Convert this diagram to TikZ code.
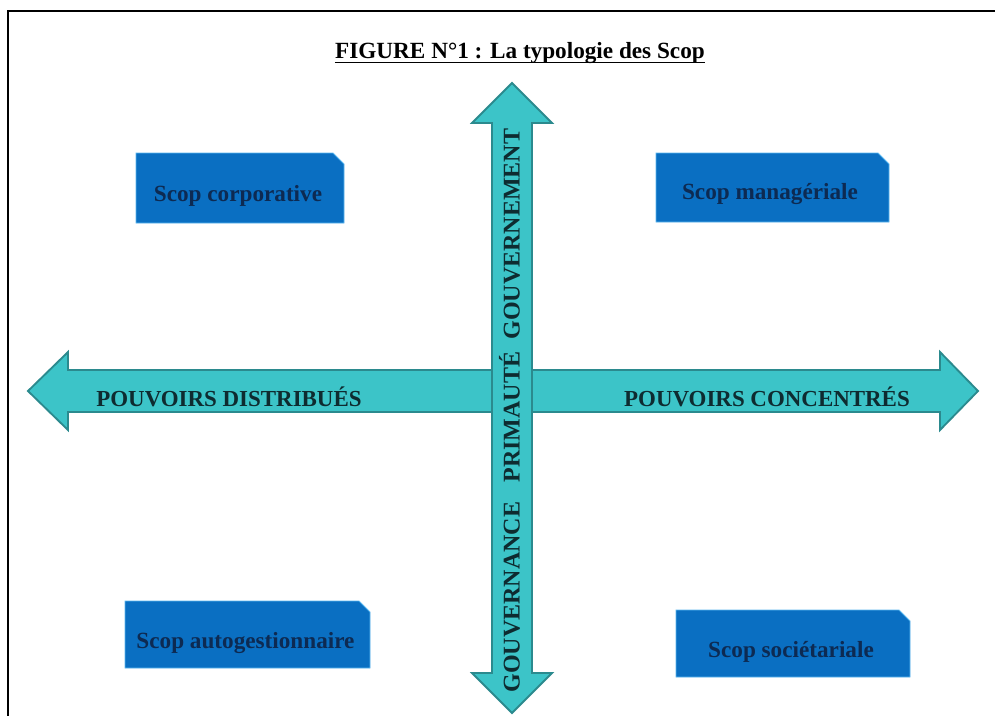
\documentclass[tikz,border=0pt]{standalone}
\usepackage{fontspec}
\setmainfont{Liberation Serif}
\definecolor{arrowfill}{HTML}{3CC4C8}
\definecolor{arrowline}{HTML}{2B8A8E}
\definecolor{arrowtext}{HTML}{0E2B30}
\definecolor{boxfill}{HTML}{0A6FC2}
\definecolor{boxline}{HTML}{5BB8F0}
\definecolor{boxtext}{HTML}{0D2A52}
\tikzset{
  bigarrow/.style={fill=arrowfill, draw=arrowline, line width=1.4pt, line join=miter},
  axislabel/.style={inner sep=0pt, text=arrowtext, font=\fontsize{17.2}{20}\selectfont\bfseries},
  vertlabel/.style={inner sep=0pt, text=arrowtext, rotate=90, anchor=base, font=\fontsize{18}{20}\selectfont\bfseries},
  scopbox/.style={fill=boxfill, draw=boxline, line width=0.6pt},
  scoplabel/.style={inner sep=0pt, anchor=base, text=boxtext, font=\fontsize{17.4}{20}\selectfont\bfseries},
}
\begin{document}
\begin{tikzpicture}[x=0.75pt,y=-0.75pt]
\useasboundingbox (0,0) rectangle (995,715);
\fill[white] (0,0) rectangle (995,715);
% frame
\draw[line width=1.5pt] (8,730) -- (8,11) -- (1010,11);
% title
\node[inner sep=0pt, anchor=base, font=\fontsize{17.4}{20}\selectfont\bfseries] (title) at (520,58) {FIGURE N°1 : La typologie des Scop};
\draw[line width=0.9pt] ([yshift=-3.4pt]title.base west) -- ([yshift=-3.4pt]title.base east);
% horizontal arrow
\draw[bigarrow] (28,391) -- (68,352) -- (68,370) -- (940,370) -- (940,352) -- (978,391)
  -- (940,430) -- (940,412) -- (68,412) -- (68,430) -- cycle;
% vertical arrow
\draw[bigarrow] (512,83) -- (552,123) -- (532,123) -- (532,673) -- (552,673) -- (512,713)
  -- (472,673) -- (492,673) -- (492,123) -- (472,123) -- cycle;
% axis labels
\node[axislabel, anchor=base] (dist) at (229,406) {POUVOIRS DISTRIBUÉS};
\node[axislabel, anchor=base] (conc) at (767,406) {POUVOIRS CONCENTRÉS};
\node[vertlabel] (gouvt) at (519.5,234) {GOUVERNEMENT};
\node[vertlabel] (prim) at (519.5,417) {PRIMAUTÉ};
\node[vertlabel] (gouvc) at (519.5,597) {GOUVERNANCE};
% boxes
\draw[scopbox] (136,153) -- (333,153) -- (344,164) -- (344,223) -- (136,223) -- cycle;
\node[scoplabel] (corp) at (238,201) {Scop corporative};
\draw[scopbox] (656,153) -- (878,153) -- (889,164) -- (889,222) -- (656,222) -- cycle;
\node[scoplabel] (mana) at (770,199) {Scop managériale};
\draw[scopbox] (125,601) -- (359,601) -- (370,612) -- (370,668) -- (125,668) -- cycle;
\node[scoplabel] (auto) at (245.5,648) {Scop autogestionnaire};
\draw[scopbox] (676,610) -- (899,610) -- (910,621) -- (910,677) -- (676,677) -- cycle;
\node[scoplabel] (soci) at (791,657) {Scop sociétariale};
\end{tikzpicture}
\end{document}
